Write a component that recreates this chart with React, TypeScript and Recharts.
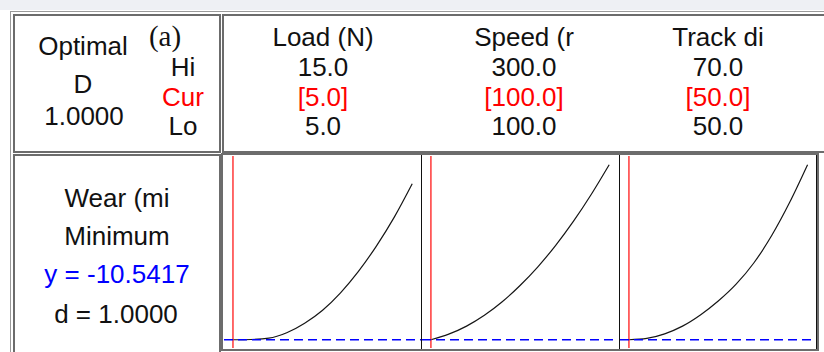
import React from 'react';
import { LineChart, Line, XAxis, YAxis, ReferenceLine } from 'recharts';

// factor settings (from the optimizer header)
const factorNames = ['Load (N)', 'Speed (r', 'Track di'];
const hiLabels = ['15.0', '300.0', '70.0'];
const curLabels = ['[5.0]', '[100.0]', '[50.0]'];
const loLabels = ['5.0', '100.0', '50.0'];

const loadLo = 5, loadHi = 15, loadCur = 5;
const speedLo = 100, speedHi = 300, speedCur = 100;
const trackLo = 50, trackHi = 70, trackCur = 50;

// predicted wear
const loadX = [5, 6, 7, 8, 9, 10, 11, 12, 13, 14, 15];
const loadWear = [-10.54, -10.4, -9.7, -6.7, -1.5, 5.6, 15.1, 26.8, 40.6, 56.4, 74.6];

const speedX = [100, 120, 140, 160, 180, 200, 220, 240, 260, 280, 300];
const speedWear = [-10.54, -7.5, -3.1, 2.8, 10.2, 19.1, 29.3, 41.0, 54.2, 68.9, 85.0];

const trackX = [50, 52, 54, 56, 58, 60, 62, 64, 66, 68, 70];
const trackWear = [-10.54, -9.8, -7.3, -3.1, 3.0, 10.6, 19.8, 31.5, 46.5, 64.5, 85.0];

const predicted = -10.5417;

const allWear = [...loadWear, ...speedWear, ...trackWear];
const wMin = Math.min(...allWear);
const wMax = Math.max(...allWear);
const wPad = (wMax - wMin) * 0.05;

const font = '"Liberation Sans", Arial, sans-serif';

type PanelProps = { xs: number[]; ys: number[]; lo: number; hi: number; cur: number; left: number; width: number };

const Panel = ({ xs, ys, lo, hi, cur, left, width }: PanelProps) => {
  const data = xs.map((x, i) => ({ x, y: ys[i] }));
  const pad = (hi - lo) * 0.05;
  return (
    <div style={{ position: 'absolute', left, top: 155.5, width, height: 192.5 }}>
      <LineChart width={width} height={192.5} data={data} margin={{ top: 0, right: 0, bottom: 0, left: 0 }}>
        <XAxis type="number" dataKey="x" domain={[lo - pad, hi + pad]} hide allowDataOverflow />
        <YAxis type="number" domain={[wMin - wPad, wMax + wPad]} hide allowDataOverflow />
        <Line type="monotone" dataKey="y" stroke="#161616" strokeWidth={1.2} dot={false} isAnimationActive={false} />
        <ReferenceLine x={cur} stroke="#ff2a2a" strokeWidth={1.4} />
        <ReferenceLine y={predicted} stroke="#0000ff" strokeWidth={1.5} strokeDasharray="9 5" />
      </LineChart>
    </div>
  );
};

const box = (left: number, top: number, width: number, height: number): React.CSSProperties => ({
  position: 'absolute', left, top, width, height, boxSizing: 'border-box',
  border: '2px solid #6c6c6c', background: '#fff',
});

const colX = [323, 524, 718];

export default function App() {
  return (
    <div style={{ position: 'absolute', left: 0, top: 0, width: 824, height: 352, overflow: 'hidden', background: '#fff' }}>
      <div style={{ position: 'absolute', left: 0, top: 0, width: 824, height: 10, background: '#eef0f4' }} />
      <div style={{ position: 'absolute', left: 10, top: 11, width: 814, height: 1, background: '#9a9a9a' }} />
      <div style={{ position: 'absolute', left: 10, top: 11, width: 1, height: 341, background: '#9a9a9a' }} />

      <div style={box(13, 14, 208, 139)} />
      <div style={box(222, 14, 620, 139)} />
      <div style={box(13, 154, 208, 210)} />
      <div style={box(221, 153, 598, 198)} />

      <Panel xs={loadX} ys={loadWear} lo={loadLo} hi={loadHi} cur={loadCur} left={223.5} width={197.2} />
      <Panel xs={speedX} ys={speedWear} lo={speedLo} hi={speedHi} cur={speedCur} left={422.1} width={196.1} />
      <Panel xs={trackX} ys={trackWear} lo={trackLo} hi={trackHi} cur={trackCur} left={620.1} width={196.5} />

      <div style={{ position: 'absolute', left: 421, top: 155, width: 1, height: 194, background: '#111' }} />
      <div style={{ position: 'absolute', left: 619, top: 155, width: 1, height: 194, background: '#111' }} />
      <div style={{ position: 'absolute', left: 816, top: 155, width: 1, height: 194, background: '#111' }} />

      <svg width={824} height={352} style={{ position: 'absolute', left: 0, top: 0, pointerEvents: 'none' }}>
        <g fontFamily={font} fontSize={26} fill="#111" textAnchor="middle">
          <text x={83} y={55}>Optimal</text>
          <text x={83} y={93}>D</text>
          <text x={84} y={125}>1.0000</text>
          <text x={183} y={76}>Hi</text>
          <text x={183} y={106} fill="#ff0000">Cur</text>
          <text x={183} y={135}>Lo</text>
          {factorNames.map((n, i) => (
            <g key={n}>
              <text x={colX[i]} y={46}>{n}</text>
              <text x={colX[i]} y={76}>{hiLabels[i]}</text>
              <text x={colX[i]} y={106} fill="#ff0000">{curLabels[i]}</text>
              <text x={colX[i]} y={135}>{loLabels[i]}</text>
            </g>
          ))}
          <text x={117} y={207}>Wear (mi</text>
          <text x={117} y={245}>Minimum</text>
          <text x={117} y={283} fill="#0000ff">y = -10.5417</text>
          <text x={116} y={323}>d = 1.0000</text>
        </g>
        <text x={165} y={46} fontFamily='"Liberation Serif", "Times New Roman", serif' fontSize={29} textAnchor="middle" fill="#111">(a)</text>
      </svg>
    </div>
  );
}
